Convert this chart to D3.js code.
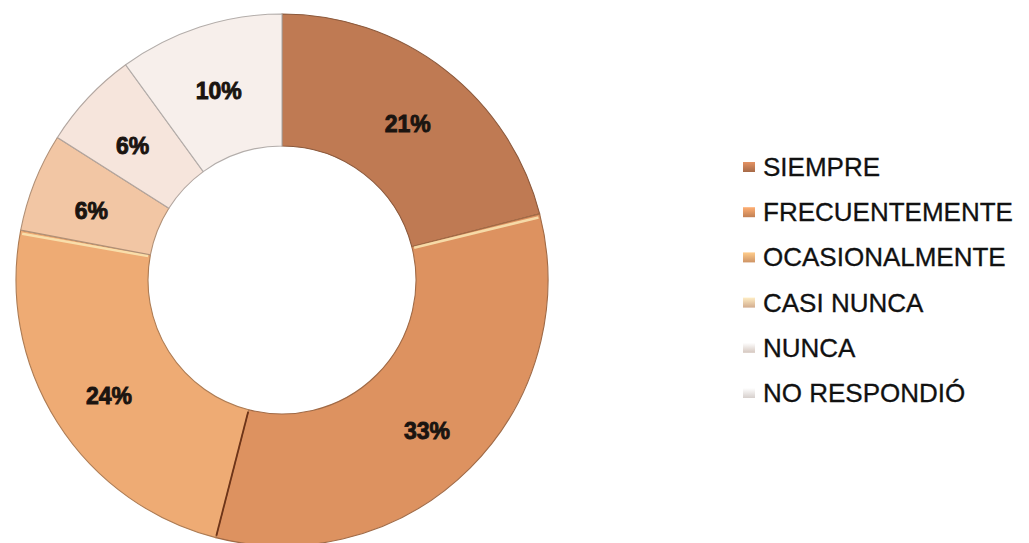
<!DOCTYPE html>
<html>
<head>
<meta charset="utf-8">
<script src="https://cdn.jsdelivr.net/npm/d3@7"></script>
<style>
  html, body { margin: 0; padding: 0; background: #ffffff; }
  svg { display: block; }
</style>
</head>
<body>
<svg id="chart" width="1029" height="543"></svg>
<script>
// Survey answers and their shares (percent)
const categories = ["SIEMPRE", "FRECUENTEMENTE", "OCASIONALMENTE", "CASI NUNCA", "NUNCA", "NO RESPONDIÓ"];
const shares = [21, 33, 24, 6, 6, 10];
const palette = ["#bf7a53", "#dd9260", "#eeab74", "#f2c6a4", "#f6e5dc", "#f7efeb"];

const svg = d3.select("#chart");
const cx = 282, cy = 280, outerR = 266, innerR = 134;

const color = d3.scaleOrdinal().domain(categories).range(palette);

const data = categories.map((c, i) => ({ name: c, value: shares[i] }));

const pie = d3.pie().value(d => d.value).sort(null);
const arc = d3.arc().innerRadius(innerR).outerRadius(outerR);
const labelArc = d3.arc().innerRadius(205).outerRadius(205);

const g = svg.append("g").attr("transform", `translate(${cx},${cy})`);
const arcs = pie(data);

g.selectAll("path.slice")
  .data(arcs)
  .join("path")
  .attr("class", "slice")
  .attr("d", arc)
  .attr("fill", d => color(d.data.name))
  .attr("stroke", d => d3.color(color(d.data.name)).darker(0.9))
  .attr("stroke-width", 1.1);

// radial edge helper: a line from the inner to the outer ring at a given angle
function edge(sel, angle) {
  sel.attr("x1", Math.sin(angle) * (innerR + 2))
     .attr("y1", -Math.cos(angle) * (innerR + 2))
     .attr("x2", Math.sin(angle) * (outerR - 2))
     .attr("y2", -Math.cos(angle) * (outerR - 2));
}

// lit upper edges of the two large slices
const lit = [
  arcs[1].startAngle + 0.012,
  arcs[2].endAngle - 0.012
];
lit.forEach(a => {
  g.append("line").call(edge, a)
    .attr("stroke", "#fbe7b4")
    .attr("stroke-width", 2.5)
    .attr("opacity", 0.85);
});

// shaded seam between FRECUENTEMENTE and OCASIONALMENTE
g.append("line").call(edge, arcs[1].endAngle)
  .attr("stroke", "#6e3418")
  .attr("stroke-width", 1.8);

g.selectAll("text.pct")
  .data(arcs)
  .join("text")
  .attr("class", "pct")
  .attr("transform", d => {
    const [x, y] = labelArc.centroid(d);
    return `translate(${x},${y + 8})`;
  })
  .attr("text-anchor", "middle")
  .attr("dominant-baseline", "middle")
  .attr("font-family", "Liberation Sans, Arial, sans-serif")
  .attr("font-weight", "bold")
  .attr("font-size", 23)
  .attr("fill", "#1a1410")
  .attr("stroke", "#1a1410")
  .attr("stroke-width", 0.9)
  .text(d => d.data.value + "%");

// Legend
const defs = svg.append("defs");
palette.forEach((c, i) => {
  const gr = defs.append("linearGradient")
    .attr("id", "lg" + i).attr("x1", 0).attr("y1", 0).attr("x2", 0).attr("y2", 1);
  gr.append("stop").attr("offset", "0%").attr("stop-color", d3.color(c).brighter(0.5));
  gr.append("stop").attr("offset", "100%").attr("stop-color", d3.color(c).darker(0.4));
});

const legendY = d3.scalePoint().domain(categories).range([167, 393]);
const legend = svg.append("g");
const rows = legend.selectAll("g.row")
  .data(categories)
  .join("g")
  .attr("class", "row")
  .attr("transform", d => `translate(743,${legendY(d)})`);

rows.append("rect")
  .attr("x", 0).attr("y", -5)
  .attr("width", 12).attr("height", 10)
  .attr("fill", (d, i) => `url(#lg${i})`);

rows.append("text")
  .attr("x", 20)
  .attr("y", 0)
  .attr("dominant-baseline", "central")
  .attr("font-family", "Liberation Sans, Arial, sans-serif")
  .attr("font-size", 26)
  .attr("fill", "#111111")
  .attr("stroke", "#111111")
  .attr("stroke-width", 0.3)
  .text(d => d);
</script>
</body>
</html>
